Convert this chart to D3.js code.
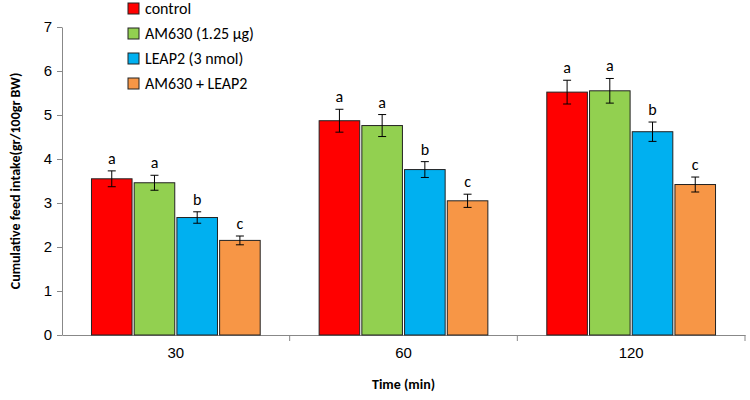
<!DOCTYPE html>
<head>
<meta charset="utf-8" />
<script src="https://d3js.org/d3.v7.min.js"></script>
<style>
    body { margin: 0; background: #fff; font-family: Calibri, Carlito, "Liberation Sans", Arial, sans-serif; }
</style>
</head>
<body>
<div id="chart"></div>
<script>
    var times = ["30", "60", "120"];
    var seriesNames = ["control", "AM630 (1.25 µg)", "LEAP2 (3 nmol)", "AM630 + LEAP2"];
    var colors = ["#ff0000", "#92d050", "#00b0f0", "#f79646"];
    var means = [
        [3.55, 4.87, 5.52],
        [3.46, 4.76, 5.55],
        [2.67, 3.76, 4.62],
        [2.15, 3.05, 3.42]
    ];
    var errs = [
        [0.18, 0.26, 0.27],
        [0.17, 0.25, 0.28],
        [0.13, 0.18, 0.22],
        [0.10, 0.15, 0.17]
    ];
    var letters = [
        ["a", "a", "a"],
        ["a", "a", "a"],
        ["b", "b", "b"],
        ["c", "c", "c"]
    ];

    var width = 750, height = 400;
    var margin = { top: 27, right: 5, bottom: 65, left: 62 };

    var svg = d3.select("#chart").append("svg")
        .attr("width", width).attr("height", height);

    var x0 = d3.scaleBand().domain(times)
        .range([margin.left, width - margin.right]).paddingInner(0).paddingOuter(0);
    var x1 = d3.scaleBand().domain(d3.range(4))
        .range([0, x0.bandwidth()]).paddingInner(0.05).paddingOuter(0.69);
    var y = d3.scaleLinear().domain([0, 7]).range([height - margin.bottom, margin.top]);

    // axes
    var yAxis = svg.append("g")
        .attr("transform", "translate(" + margin.left + ",0)")
        .call(d3.axisLeft(y).ticks(7).tickSize(5).tickSizeOuter(0));
    yAxis.selectAll("text").style("font-size", "15px").attr("fill", "#000").attr("dx", "-2");
    yAxis.selectAll("line,path").attr("stroke", "#888");

    var xAxis = svg.append("g")
        .attr("transform", "translate(0," + y(0) + ")")
        .call(d3.axisBottom(x0).tickSize(0).tickSizeOuter(0));
    xAxis.selectAll("text").style("font-size", "15px").attr("fill", "#000").attr("dy", "1.3em");
    xAxis.select("path").attr("stroke", "#888");
    xAxis.selectAll(".sep").data(times.slice(1)).join("line")
        .attr("x1", d => x0(d)).attr("x2", d => x0(d))
        .attr("y1", 0).attr("y2", 6).attr("stroke", "#888");
    xAxis.append("line").attr("x1", width - margin.right).attr("x2", width - margin.right)
        .attr("y1", 0).attr("y2", 6).attr("stroke", "#888");

    // bars
    seriesNames.forEach(function (name, s) {
        var g = svg.append("g");
        times.forEach(function (t, i) {
            var bx = x0(t) + x1(s), bw = x1.bandwidth(), cx = bx + bw / 2;
            g.append("rect")
                .attr("x", bx).attr("y", y(means[s][i]))
                .attr("width", bw).attr("height", y(0) - y(means[s][i]))
                .attr("fill", colors[s]).attr("stroke", "#222").attr("stroke-width", 1);
            var hi = y(means[s][i] + errs[s][i]), lo = y(means[s][i] - errs[s][i]);
            g.append("line").attr("x1", cx).attr("x2", cx).attr("y1", hi).attr("y2", lo)
                .attr("stroke", "#000");
            [hi, lo].forEach(function (yy) {
                g.append("line").attr("x1", cx - 4).attr("x2", cx + 4).attr("y1", yy).attr("y2", yy)
                    .attr("stroke", "#000");
            });
            g.append("text").attr("x", cx).attr("y", hi - 7)
                .attr("text-anchor", "middle").style("font-size", "16px").text(letters[s][i]);
        });
    });

    // axis titles
    svg.append("text")
        .attr("transform", "translate(20," + ((margin.top + y(0)) / 2) + ") rotate(-90)")
        .attr("text-anchor", "middle").style("font-size", "14px").style("font-weight", "bold")
        .text("Cumulative feed intake(gr/100gr BW)");
    svg.append("text")
        .attr("x", (margin.left + width - margin.right) / 2).attr("y", 389)
        .attr("text-anchor", "middle").style("font-size", "14px").style("font-weight", "bold")
        .text("Time (min)");

    // legend
    var legend = svg.append("g").attr("transform", "translate(128,3)");
    seriesNames.forEach(function (name, s) {
        var row = legend.append("g").attr("transform", "translate(0," + (s * 25) + ")");
        row.append("rect").attr("width", 11).attr("height", 11)
            .attr("fill", colors[s]).attr("stroke", "#222");
        row.append("text").attr("x", 17).attr("y", 11)
            .style("font-size", "16px").text(name);
    });
</script>
</body>
